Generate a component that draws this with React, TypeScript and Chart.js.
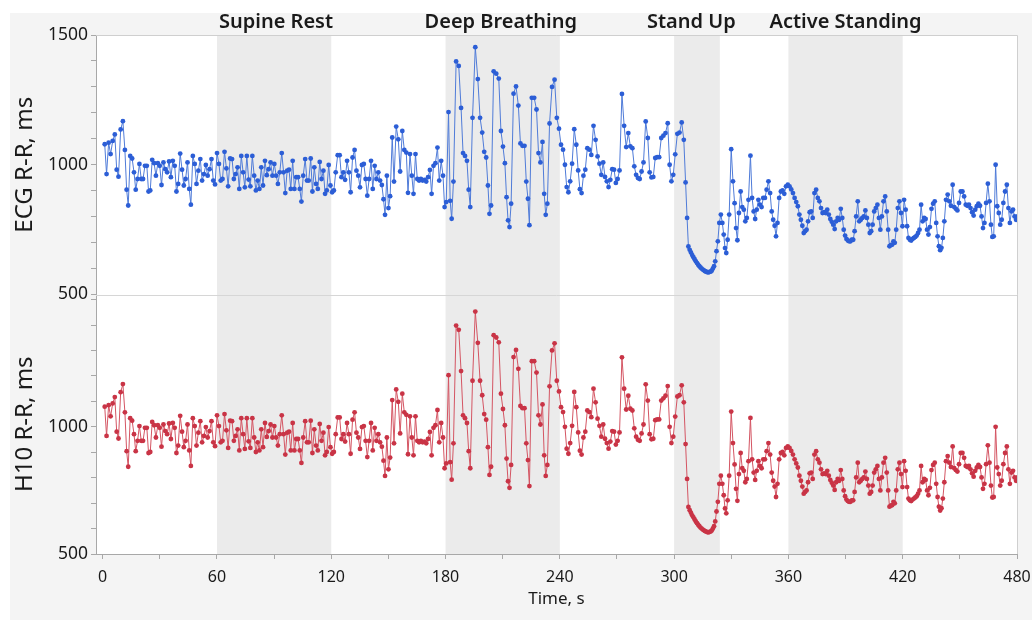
import { useEffect, useRef } from "react";
import { Chart, registerables } from "chart.js";

Chart.register(...registerables);

// ---- Data: successive R-R intervals (ms), per protocol phase ----
const rrBaseline = [1079, 964, 1085, 1041, 1092, 1117, 981, 954, 1136, 1168, 1057, 904, 843, 1034, 1024, 971, 904, 945, 1003, 945, 945, 996, 996, 897, 901, 1019, 1006, 958, 1006, 996, 922, 1009, 983, 971, 1013, 952, 1015, 996, 897, 926, 1043, 981, 920, 945, 1009, 907, 846, 1034, 1003, 926, 977, 1022, 939, 964, 999, 958, 983, 1022, 939, 924, 1045];
const rrSupine = [1003, 939, 945, 1050, 986, 917, 1024, 1022, 945, 964, 990, 907, 1034, 971, 913, 1034, 943, 917, 1034, 958, 901, 939, 907, 990, 920, 1015, 960, 983, 1009, 958, 1003, 958, 926, 971, 1045, 971, 891, 977, 981, 907, 1015, 907, 952, 952, 907, 858, 958, 1022, 939, 939, 1024, 897, 990, 926, 907, 1011, 945, 977, 888, 901, 999, 920, 894, 901, 971, 1037, 1037, 952];
const rrPreBreathing = [971, 942, 1015, 971, 894, 1028, 1057, 977, 958, 913, 999, 1003, 945, 881, 945, 1015, 907, 996, 945, 971, 939, 922, 867, 807, 958, 833, 879, 1105, 935, 1147, 1098, 974, 1130, 1057, 1047, 892, 1041, 958, 888, 1041, 945, 939, 945, 939, 942, 935, 952, 980, 888, 996, 1006, 1066, 939, 1015, 958, 837, 856];
const rrDeepBreathing = [1203, 861, 792, 935, 1398, 1381, 1219, 1045, 1034, 1015, 904, 837, 1181, 1453, 1330, 1181, 1124, 1050, 1028, 920, 811, 843, 1360, 1351, 1332, 1130, 1070, 1006, 875, 786, 760, 850, 1274, 1302, 1228, 1082, 1073, 1073, 935, 869, 767, 1258, 1258, 1213, 1045, 1009, 1088, 888, 807, 850, 1159, 1300, 1328, 1181, 1139];
const rrRecovery = [1077, 1058, 1000, 914, 894, 936, 1004, 1137, 1077, 978, 906, 891, 958, 981, 1064, 1058, 1038, 1150, 1096, 1032, 1004, 961, 1009, 953, 936, 914, 942, 983, 981, 930, 945, 978, 1273, 1150, 1068, 1122, 1071, 1064, 994, 961, 949, 945, 974, 1009, 1167, 1103, 971, 951, 953, 1026, 1029, 1029, 1103, 1112, 1122, 1160, 1000, 936, 961, 1040, 1119, 1124, 1163];
const rrStandUp = [1096, 932, 795, 685, 672, 662, 652, 644, 636, 628, 621, 615, 609, 604, 600, 596, 593, 590, 588, 586, 585, 587, 588, 592, 600, 609, 628, 667, 705, 776, 808, 776, 731, 679, 660, 711, 808];
const rrTransition = [1060, 936, 852, 756, 709, 814, 897, 837, 827, 782, 795, 865, 1035, 872, 820, 791, 827, 865, 846, 837, 872, 872, 904, 936, 891, 820, 788, 765, 724, 776, 872, 897, 901, 888, 917];
const rrActiveStanding = [923, 917, 905, 891, 872, 856, 840, 808, 788, 765, 737, 744, 750, 782, 817, 820, 795, 891, 904, 872, 859, 833, 814, 817, 814, 827, 808, 791, 780, 769, 752, 782, 795, 788, 830, 795, 750, 727, 714, 708, 705, 705, 711, 711, 744, 801, 859, 782, 788, 795, 801, 824, 795, 769, 737, 744, 769, 820, 833, 846, 795, 750, 801, 859, 878, 820, 750, 686, 690, 692, 705, 699, 750, 833, 859, 814, 763];
const rrFinal = [865, 827, 763, 718, 711, 708, 714, 718, 722, 727, 737, 750, 846, 782, 795, 791, 750, 731, 760, 830, 850, 859, 776, 724, 686, 671, 680, 718, 782, 865, 885, 859, 842, 923, 837, 830, 824, 853, 897, 897, 878, 846, 842, 846, 833, 817, 804, 827, 840, 850, 842, 801, 756, 776, 853, 927, 859, 769, 722, 724, 1000, 840, 814, 769, 788, 853, 897, 923, 833, 776, 820, 827, 801, 788, 801, 795, 790, 786, 779];

const ecgRR = [
  ...rrBaseline, ...rrSupine, ...rrPreBreathing, ...rrDeepBreathing, ...rrRecovery,
  ...rrStandUp, ...rrTransition, ...rrActiveStanding, ...rrFinal,
];
// The Polar H10 trace reads identical to the ECG trace at this resolution.
const h10RR = ecgRR.slice();

const xTickValues = [0, 30, 60, 90, 120, 150, 180, 210, 240, 270, 300, 330, 360, 390, 420, 450, 480];
const xTickLabels = ["0", "60", "120", "180", "240", "300", "360", "420", "480"];
const yTickValues = [500, 600, 700, 800, 900, 1000, 1100, 1200, 1300, 1400, 1500];
const ecgTickLabels = ["500", "1000", "1500"];
const h10TickLabels = ["500", "1000"];

const phaseNames = ["Supine Rest", "Deep Breathing", "Stand Up", "Active Standing"];
const phaseStart = [60, 180, 300, 360];
const phaseEnd = [120, 240, 324, 420];
const phaseLabelAt = [91, 209, 309, 390];

// beat time = running sum of R-R intervals
function toPoints(rr: number[]) {
  let t = 0;
  return rr.map((v) => {
    t += v / 1000;
    return { x: t, y: v };
  });
}

const FONT = '"Noto Sans", "Open Sans", sans-serif';

const panelPlugin = {
  id: "panels",
  beforeDraw(chart: any) {
    const { ctx, chartArea: a, scales } = chart;
    ctx.save();
    ctx.fillStyle = "#f4f4f4";
    ctx.fillRect(10, 13, chart.width - 10, chart.height - 13);
    ctx.fillStyle = "#ffffff";
    ctx.fillRect(a.left, a.top, a.right - a.left, a.bottom - a.top);
    ctx.fillStyle = "#ebebeb";
    phaseStart.forEach((s, i) => {
      const x0 = scales.x.getPixelForValue(s);
      const x1 = scales.x.getPixelForValue(phaseEnd[i]);
      ctx.fillRect(x0, a.top, x1 - x0, a.bottom - a.top);
    });
    ctx.restore();
  },
  afterDraw(chart: any) {
    const { ctx, chartArea: a, scales } = chart;
    ctx.save();
    ctx.lineWidth = 1;
    ctx.strokeStyle = "#cfcfcf";
    ctx.beginPath();
    ctx.moveTo(a.left, a.top + 0.5);
    ctx.lineTo(a.right + 0.5, a.top + 0.5);
    ctx.lineTo(a.right + 0.5, a.bottom);
    ctx.stroke();
    const yDiv = Math.round(scales.yECG.bottom) + 0.5;
    ctx.strokeStyle = "#d6d6d6";
    ctx.beginPath();
    ctx.moveTo(a.left, yDiv);
    ctx.lineTo(a.right, yDiv);
    ctx.stroke();
    ctx.fillStyle = "#1a1a1a";
    ctx.font = `600 20px ${FONT}`;
    ctx.textAlign = "center";
    ctx.textBaseline = "middle";
    phaseNames.forEach((n, i) => {
      ctx.fillText(n, scales.x.getPixelForValue(phaseLabelAt[i]), 22);
    });
    ctx.restore();
  },
};

function yScale(label: string, max: number, labels: string[]) {
  return {
    type: "linear",
    position: "left",
    stack: "rr",
    stackWeight: 1,
    min: 500,
    max,
    afterBuildTicks: (s: any) => {
      s.ticks = yTickValues.filter((v) => v <= max).map((v) => ({ value: v }));
    },
    afterFit: (s: any) => {
      s.width = 96;
      s.paddingTop = 0;
      s.paddingBottom = 0;
    },
    ticks: {
      autoSkip: false,
      color: "#1a1a1a",
      font: { size: 17.5, family: FONT },
      padding: 3,
      callback: (v: any) => (labels.includes(String(v)) ? String(v) : ""),
    },
    grid: { drawOnChartArea: false, tickLength: 5, color: "#a8a8a8" },
    border: { color: "#a8a8a8" },
    title: {
      display: true,
      text: label,
      color: "#1a1a1a",
      font: { size: 24, family: FONT },
      padding: { top: 11, bottom: 0 },
    },
  };
}

export default function App() {
  const ref = useRef<HTMLCanvasElement | null>(null);
  useEffect(() => {
    if (!ref.current) return;
    const chart = new Chart(ref.current, {
      type: "line",
      data: {
        datasets: [
          {
            label: "ECG R-R, ms",
            data: toPoints(ecgRR),
            yAxisID: "yECG",
            borderColor: "#4f7bd8",
            backgroundColor: "#2c5ed6",
            pointBackgroundColor: "#2c5ed6",
            pointBorderWidth: 0,
            pointRadius: 2.4,
            borderWidth: 1,
            tension: 0,
          },
          {
            label: "H10 R-R, ms",
            data: toPoints(h10RR),
            yAxisID: "yH10",
            borderColor: "#d45563",
            backgroundColor: "#c93446",
            pointBackgroundColor: "#c93446",
            pointBorderWidth: 0,
            pointRadius: 2.4,
            borderWidth: 1,
            tension: 0,
          },
        ],
      },
      options: {
        animation: false,
        responsive: false,
        maintainAspectRatio: false,
        devicePixelRatio: 1,
        layout: { padding: { top: 35, right: 15, left: 0, bottom: 0 } },
        plugins: { legend: { display: false }, tooltip: { enabled: false } },
        scales: {
          x: {
            type: "linear",
            min: -3.5,
            max: 480,
            afterBuildTicks: (s: any) => {
              s.ticks = xTickValues.map((v) => ({ value: v }));
            },
            afterFit: (s: any) => {
              s.height = 66;
              s.paddingLeft = 0;
              s.paddingRight = 0;
            },
            ticks: {
              autoSkip: false,
              maxRotation: 0,
              color: "#1a1a1a",
              font: { size: 16, family: FONT },
              padding: 9,
              callback: (v: any) => (xTickLabels.includes(String(v)) ? String(v) : ""),
            },
            grid: { drawOnChartArea: false, tickLength: 5, color: "#a8a8a8" },
            border: { color: "#a8a8a8" },
            title: {
              display: true,
              text: "Time, s",
              color: "#1a1a1a",
              font: { size: 17, family: FONT },
              padding: { top: 0, bottom: 11 },
            },
          },
          yH10: yScale("H10 R-R, ms", 1520, h10TickLabels) as any,
          yECG: yScale("ECG R-R, ms", 1500, ecgTickLabels) as any,
        },
      },
      plugins: [panelPlugin],
    });
    return () => chart.destroy();
  }, []);
  return (
    <div style={{ position: "absolute", left: 0, top: 0, width: 1032, height: 620 }}>
      <canvas ref={ref} width={1032} height={620} />
    </div>
  );
}
